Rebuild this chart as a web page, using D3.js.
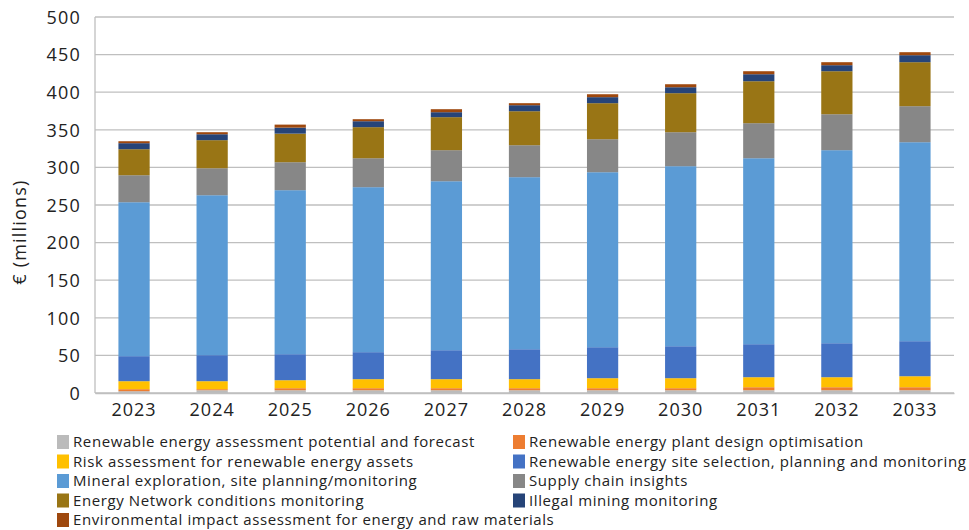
<!DOCTYPE html>
<html>
<head>
<meta charset="utf-8">
<script src="https://cdn.jsdelivr.net/npm/d3@7"></script>
<style>
  html, body { margin: 0; padding: 0; background: #fff; }
  svg { display: block; font-family: "Open Sans", sans-serif; }
</style>
</head>
<body>
<svg id="chart" width="969" height="530"></svg>
<script>
const years = ["2023","2024","2025","2026","2027","2028","2029","2030","2031","2032","2033"];
const seriesNames = [
  "Renewable energy assessment potential and forecast",
  "Renewable energy plant design optimisation",
  "Risk assessment for renewable energy assets",
  "Renewable energy site selection, planning and monitoring",
  "Mineral exploration, site planning/monitoring",
  "Supply chain insights",
  "Energy Network conditions monitoring",
  "Illegal mining monitoring",
  "Environmental impact assessment for energy and raw materials"
];
const assessmentPotential = [2.4, 3.7, 3.7, 3.7, 3.7, 3.7, 3.7, 3.7, 3.7, 3.7, 3.7];
const plantDesign         = [2.7, 1.4, 2.7, 2.7, 2.7, 2.7, 2.7, 2.7, 4.0, 4.0, 4.0];
const riskAssessment      = [10.6, 10.6, 10.6, 12.0, 12.0, 12.0, 13.3, 13.3, 13.3, 13.3, 14.6];
const siteSelection       = [33.3, 34.6, 34.6, 35.9, 38.5, 39.8, 41.2, 42.5, 43.9, 45.2, 46.6];
const mineralExploration  = [204.7, 212.7, 218.1, 219.4, 224.7, 228.8, 232.7, 239.4, 247.3, 256.7, 264.6];
const supplyChain         = [35.9, 35.9, 37.2, 38.5, 41.3, 42.5, 43.9, 45.2, 46.6, 47.8, 47.9];
const networkMonitoring   = [34.6, 37.3, 38.0, 41.3, 43.9, 45.2, 47.9, 51.9, 55.8, 57.2, 58.5];
const illegalMining       = [8.0, 7.9, 8.0, 7.9, 6.6, 8.0, 8.0, 7.9, 9.3, 8.0, 9.3];
const environmentalImpact = [2.6, 2.7, 4.0, 2.7, 4.0, 2.7, 3.9, 4.0, 4.0, 4.0, 4.0];
const yTicks = [0, 50, 100, 150, 200, 250, 300, 350, 400, 450, 500];
const yTitle = "€ (millions)";

const seriesValues = [assessmentPotential, plantDesign, riskAssessment, siteSelection,
  mineralExploration, supplyChain, networkMonitoring, illegalMining, environmentalImpact];
const colors = ["#BBBBBB", "#ED7D31", "#FFC000", "#4472C4", "#5B9BD5", "#878787", "#997515", "#264478", "#9E480E"];

const table = years.map((y, i) => {
  const row = { year: y };
  seriesNames.forEach((n, k) => row[n] = seriesValues[k][i]);
  return row;
});
const stacked = d3.stack().keys(seriesNames)(table);

const svg = d3.select("#chart");
const margin = { left: 95, right: 15, top: 17, bottom: 137 };
const W = 969, H = 530;
const x = d3.scaleBand().domain(years).range([margin.left, W - margin.right]).paddingInner(0.6).paddingOuter(0.3);
const y = d3.scaleLinear().domain([0, 500]).range([H - margin.bottom, margin.top]);

// gridlines
svg.append("g").selectAll("line").data(yTicks).join("line")
  .attr("x1", margin.left).attr("x2", W - margin.right)
  .attr("y1", d => y(d)).attr("y2", d => y(d))
  .attr("stroke", "#BFBFBF").attr("stroke-width", 1.3);

// y axis line
svg.append("line").attr("x1", margin.left).attr("x2", margin.left)
  .attr("y1", y(0)).attr("y2", y(500)).attr("stroke", "#BFBFBF").attr("stroke-width", 1.3);

// bars
svg.append("g").selectAll("g").data(stacked).join("g")
  .attr("fill", (d, i) => colors[i])
  .selectAll("rect").data(d => d).join("rect")
  .attr("x", d => x(d.data.year))
  .attr("width", x.bandwidth())
  .attr("y", d => y(d[1]))
  .attr("height", d => y(d[0]) - y(d[1]));

// y axis labels
const yAxis = d3.axisLeft(y).tickValues(yTicks).tickSize(0).tickPadding(14);
const ga = svg.append("g").attr("transform", `translate(${margin.left},0)`).call(yAxis);
ga.select(".domain").remove();
ga.selectAll("text").attr("font-size", 18).attr("letter-spacing", "1.2px").attr("fill", "#222")
  .attr("font-family", "Open Sans, sans-serif").attr("dy", "0.35em");

// x axis labels
const xAxis = d3.axisBottom(x).tickSize(0).tickPadding(10);
const gx = svg.append("g").attr("transform", `translate(0,${y(0)})`).call(xAxis);
gx.select(".domain").attr("stroke", "#BFBFBF").attr("stroke-width", 1.3);
gx.selectAll("text").attr("font-size", 18).attr("letter-spacing", "1px").attr("fill", "#222")
  .attr("font-family", "Open Sans, sans-serif");

// y title
svg.append("text")
  .attr("transform", `translate(26,232) rotate(-90)`)
  .attr("text-anchor", "middle")
  .attr("font-size", 18).attr("letter-spacing", "1.2px").attr("fill", "#222")
  .text(yTitle);

// legend
const legend = svg.append("g");
seriesNames.forEach((n, i) => {
  const col = i % 2, row = Math.floor(i / 2);
  const lx = col === 0 ? 57 : 513;
  const ly = 442 + row * 19.5;
  legend.append("rect").attr("x", lx).attr("y", ly - 7).attr("width", 12).attr("height", 14).attr("fill", colors[i]);
  legend.append("text").attr("x", lx + 16).attr("y", ly).attr("dy", "0.35em")
    .attr("font-size", 15).attr("letter-spacing", "0.6px").attr("fill", "#222").text(n);
});
</script>
</body>
</html>
